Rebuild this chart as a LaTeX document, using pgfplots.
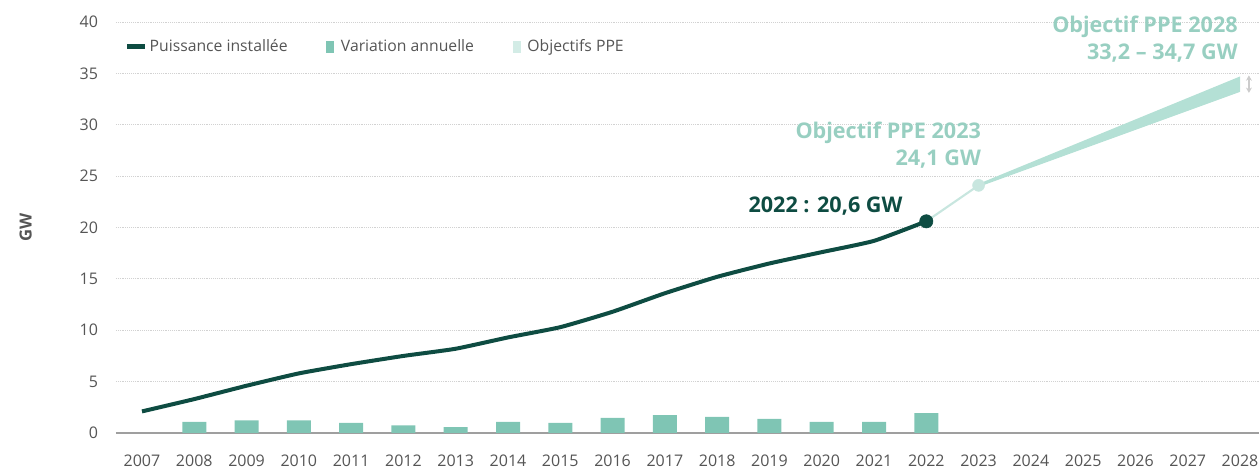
\documentclass[border=0pt]{standalone}
\usepackage{pgfplots}
\pgfplotsset{compat=1.18}
\usepackage{fontspec}
\setmainfont{Open Sans}
\usetikzlibrary{arrows.meta}
\definecolor{darkg}{HTML}{0E4C42}
\definecolor{barc}{HTML}{7FC5B4}
\definecolor{lightl}{HTML}{C8E6DF}
\definecolor{bandc}{HTML}{B4E0D5}
\definecolor{annot}{HTML}{98CFC1}
\definecolor{tickc}{HTML}{555555}
\definecolor{legobj}{HTML}{D3ECE6}
\begin{document}
\begin{tikzpicture}
\useasboundingbox (-87pt,-30pt) rectangle (857.25pt,324.75pt);
\begin{axis}[
  scale only axis, width=857.25pt, height=308.25pt,
  xmin=2006.503, xmax=2028.363, ymin=0, ymax=40,
  clip=false,
  axis line style={draw=none},
  major tick length=0pt,
  xtick={2007,2008,...,2028},
  ytick={5,10,...,40},
  extra y ticks={0},
  extra y tick style={grid style={solid, draw=gray!75, line width=1.5pt}},
  ymajorgrids,
  grid style={densely dotted, draw=gray!35, line width=0.7pt},
  /pgf/number format/assume math mode=true,
  /pgf/number format/1000 sep={},
  tick label style={font=\fontsize{12}{14}\selectfont, text=tickc},
  yticklabel style={xshift=-10pt},
  xticklabel style={yshift=-13pt},
  ylabel={GW},
  every axis y label/.style={at={(axis description cs:-0.079,0.5)}, rotate=90, anchor=center,
    font=\bfseries\fontsize{12.5}{14}\selectfont, text=tickc},
  legend style={at={(axis cs:2006.67,37.6)}, anchor=west, draw=none, fill=none,
    inner sep=0pt, font=\fontsize{11.8}{13}\selectfont, text=tickc,
    /tikz/every even column/.append style={column sep=23pt}},
  legend columns=3,
  legend cell align=left,
]
\addlegendimage{legend image code/.code={\draw[darkg, line width=3.5pt] (0pt,0pt) -- (13pt,0pt);}}
\addlegendentry{Puissance installée}
\addlegendimage{legend image code/.code={\path[draw=none, fill=none] (0pt,0pt) rectangle (13pt,0.1pt); \fill[barc, draw=none] (4pt,-4.5pt) rectangle (10pt,4.5pt);}}
\addlegendentry{Variation annuelle}
\addlegendimage{legend image code/.code={\path[draw=none, fill=none] (0pt,0pt) rectangle (13pt,0.1pt); \fill[legobj, draw=none] (4pt,-4.5pt) rectangle (10pt,4.5pt);}}
\addlegendentry{Objectifs PPE}

% objectives band
\addplot[fill=bandc, draw=none, forget plot] coordinates {(2023,23.95) (2028,33.2) (2028,34.7) (2023,24.25)} -- cycle;
\addplot[lightl, line width=1.6pt, forget plot] coordinates {(2022,20.6) (2023,24.1)};
% annual variation
\addplot[ybar, bar width=18pt, fill=barc, draw=none, forget plot] coordinates {
(2008,1.08) (2009,1.24) (2010,1.24) (2011,0.98) (2012,0.75) (2013,0.56) (2014,1.08)
(2015,0.98) (2016,1.47) (2017,1.73) (2018,1.57) (2019,1.37) (2020,1.08) (2021,1.08) (2022,1.93)};
% installed capacity
\addplot[darkg, line width=3pt, smooth, tension=0.3, forget plot] coordinates {
(2007,2.1) (2008,3.3) (2009,4.6) (2010,5.8) (2011,6.7) (2012,7.5) (2013,8.2) (2014,9.3)
(2015,10.3) (2016,11.8) (2017,13.6) (2018,15.2) (2019,16.5) (2020,17.6) (2021,18.7) (2022,20.6)};
\addplot[only marks, mark=*, mark size=5pt, mark options={fill=darkg, draw=darkg}, forget plot] coordinates {(2022,20.6)};
\addplot[only marks, mark=*, mark size=4.5pt, mark options={fill=lightl, draw=lightl}, forget plot] coordinates {(2023,24.1)};

\draw[{Stealth[length=4pt,width=4.5pt]}-{Stealth[length=4pt,width=4.5pt]}, gray!40, line width=1pt] (axis cs:2028.17,34.8) -- (axis cs:2028.17,33.1);

\node[anchor=east, font=\bfseries\fontsize{16.2}{20}\selectfont, text=darkg, inner sep=0pt] at (axis cs:2021.55,22.1) {2022 : 20,6 GW};
\node[anchor=east, align=right, font=\bfseries\fontsize{16.2}{20}\selectfont, text=annot, inner sep=0pt] at (axis cs:2023.05,28.0) {Objectif PPE 2023\\24,1 GW};
\node[anchor=east, align=right, font=\bfseries\fontsize{16.2}{20}\selectfont, text=annot, inner sep=0pt] at (axis cs:2027.96,38.3) {Objectif PPE 2028\\33,2 -- 34,7 GW};
\end{axis}
\end{tikzpicture}
\end{document}
